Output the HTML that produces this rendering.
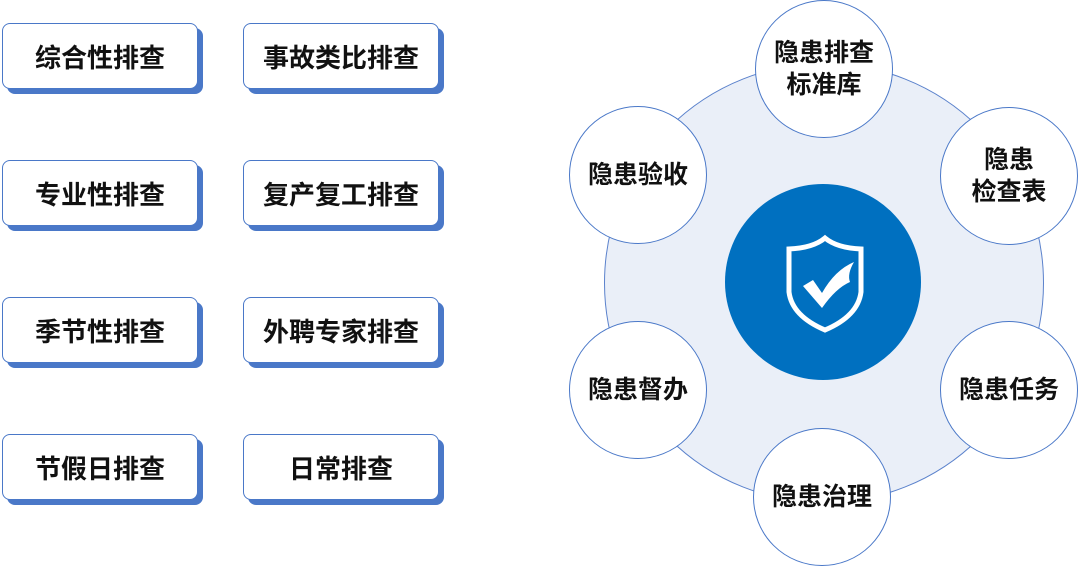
<!DOCTYPE html>
<html><head><meta charset="utf-8"><style>
body{margin:0;width:1080px;height:567px;background:#fff;position:relative;overflow:hidden;font-family:"Liberation Sans","Noto Sans CJK SC",sans-serif;}
.b{position:absolute;width:194px;height:64px;background:#fff;border:1.5px solid #4a78c8;border-radius:8px;box-shadow:5px 5px 0 #4a78c8;display:flex;align-items:center;justify-content:center;font-size:26px;font-weight:bold;color:#111;}
.c{position:absolute;width:138px;height:138px;border-radius:50%;background:#fff;border:1.5px solid #4a78c8;display:flex;align-items:center;justify-content:center;text-align:center;font-size:25px;font-weight:bold;color:#111;line-height:32px;box-sizing:border-box;}
</style></head><body>
<div class="b" style="left:2px;top:23px">综合性排查</div>
<div class="b" style="left:243px;top:23px">事故类比排查</div>
<div class="b" style="left:2px;top:160px">专业性排查</div>
<div class="b" style="left:243px;top:160px">复产复工排查</div>
<div class="b" style="left:2px;top:297px">季节性排查</div>
<div class="b" style="left:243px;top:297px">外聘专家排查</div>
<div class="b" style="left:2px;top:434px">节假日排查</div>
<div class="b" style="left:243px;top:434px">日常排查</div>
<div style="position:absolute;left:604px;top:63px;width:440px;height:440px;border-radius:50%;background:#eaeff8;border:1.5px solid #5b82cc;box-sizing:border-box"></div>
<div style="position:absolute;left:725px;top:184px;width:196px;height:196px;border-radius:50%;background:#0070c0"></div>
<svg style="position:absolute;left:780px;top:230px" width="90" height="110" viewBox="0 0 90 110">
<path d="M45 8 Q33 18 9 19 V62 Q12 86 45 100 Q78 86 81 62 V19 Q57 18 45 8 Z" fill="none" stroke="#fff" stroke-width="5"/>
<path d="M23 56 L33 50 L42 63 Q55 40 74 32 Q67 44 70 52 Q56 58 42 78 Z" fill="#fff"/>
</svg>
<div class="c" style="left:755px;top:0px">隐患排查<br>标准库</div>
<div class="c" style="left:940px;top:107px">隐患<br>检查表</div>
<div class="c" style="left:569px;top:106px">隐患验收</div>
<div class="c" style="left:569px;top:321px">隐患督办</div>
<div class="c" style="left:940px;top:321px">隐患任务</div>
<div class="c" style="left:753px;top:428px">隐患治理</div>
</body></html>
